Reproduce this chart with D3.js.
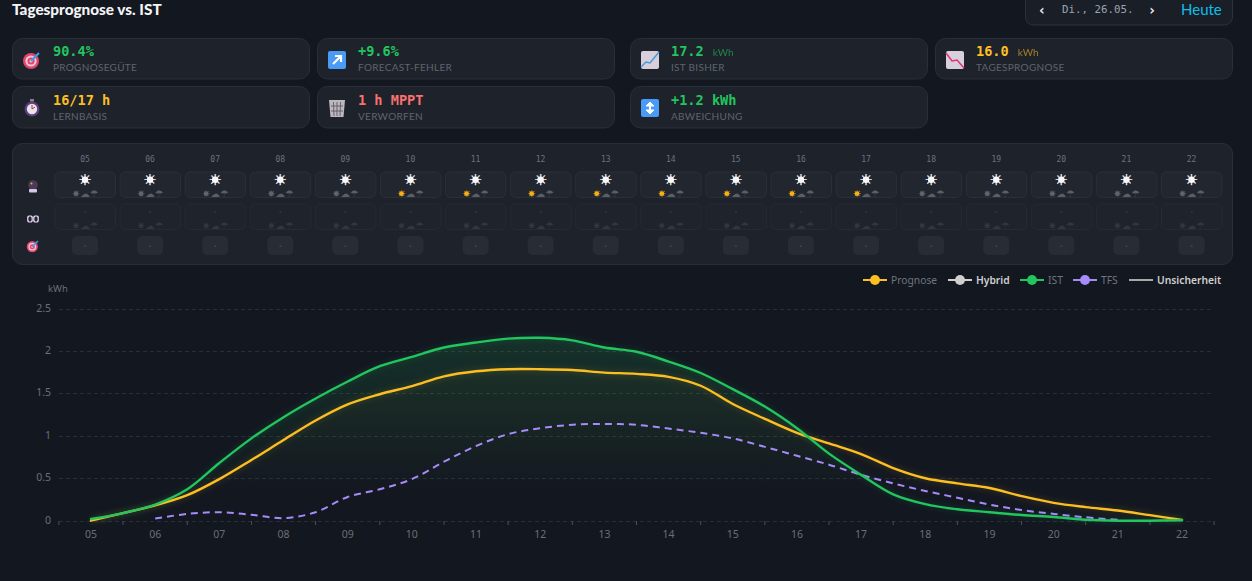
<!DOCTYPE html>
<html lang="de"><head><meta charset="utf-8"><title>Tagesprognose vs. IST</title>
<script src="https://cdn.jsdelivr.net/npm/d3@7/dist/d3.min.js"></script>
<style>html,body{margin:0;padding:0;background:#131720;overflow:hidden}svg{display:block}</style></head>
<body><div id="c"></div>
<script>
const hourLabels=["05","06","07","08","09","10","11","12","13","14","15","16","17","18","19","20","21","22"];
const times=[5,5.5,6,6.5,7,7.5,8,8.5,9,9.5,10,10.5,11,11.5,12,12.5,13,13.5,14,14.5,15,15.5,16,16.5,17,17.5,18,18.5,19,19.5,20,20.5,21,21.5,22];
const prognose=[0,.09,.18,.30,.49,.715,.95,1.18,1.37,1.49,1.585,1.70,1.76,1.785,1.785,1.775,1.745,1.73,1.695,1.59,1.375,1.2,1.035,.91,.785,.62,.50,.44,.385,.29,.21,.16,.12,.065,.01];
const ist=[.02,.09,.19,.37,.68,.97,1.22,1.44,1.64,1.82,1.93,2.04,2.10,2.145,2.155,2.125,2.04,1.99,1.875,1.74,1.55,1.345,1.09,.79,.54,.31,.195,.135,.10,.067,.044,.012,0,0,.005];
const tfs=[null,null,.025,.08,.10,.07,.03,.10,.28,.37,.49,.695,.88,1.02,1.09,1.13,1.14,1.13,1.085,1.035,.97,.87,.765,.66,.54,.44,.35,.27,.19,.125,.08,.04,.01,null,null];
const yTicks=[0,.5,1,1.5,2,2.5];
const legendItems=[["Prognose","#fbbf24",true,false],["Hybrid","#cfcfcf",true,true],["IST","#22c55e",true,false],["TFS","#a78bfa",true,false],["Unsicherheit","#a8a8a8",false,true]];
const legendX=[863,948,1020,1073,1129];
const kpiCards=[
 {icon:"target",value:"90.4%",unit:"",label:"PROGNOSEGÜTE",color:"#22c55e",col:0,row:0},
 {icon:"up",value:"+9.6%",unit:"",label:"FORECAST-FEHLER",color:"#22c55e",col:1,row:0},
 {icon:"chartUp",value:"17.2",unit:"kWh",label:"IST BISHER",color:"#22c55e",col:2,row:0},
 {icon:"chartDown",value:"16.0",unit:"kWh",label:"TAGESPROGNOSE",color:"#fbbf24",col:3,row:0},
 {icon:"watch",value:"16/17 h",unit:"",label:"LERNBASIS",color:"#fbbf24",col:0,row:1},
 {icon:"trash",value:"1 h MPPT",unit:"",label:"VERWORFEN",color:"#f87171",col:1,row:1},
 {icon:"updown",value:"+1.2 kWh",unit:"",label:"ABWEICHUNG",color:"#22c55e",col:2,row:1}];
const sunnyHours=["10","11","12","13","14","15","16","17"];
const W=1252,H=581;
const sans="'Noto Sans',sans-serif",head="Lato,sans-serif",mono="'DejaVu Sans Mono',monospace",sym="'DejaVu Sans'";
const svg=d3.select("#c").append("svg").attr("width",W).attr("height",H).attr("viewBox",[0,0,W,H]);
const defs=svg.append("defs");
function txt(p,x,y,s,o={}){return p.append("text").attr("x",x).attr("y",y).text(s)
 .attr("font-family",o.f||sans).attr("font-size",o.s||10).attr("font-weight",o.w||400)
 .attr("fill",o.c||"#fff").attr("text-anchor",o.a||"start").attr("opacity",o.o==null?1:o.o).attr("letter-spacing",o.ls||null);}
// header
txt(svg,12,14.5,"Tagesprognose vs. IST",{f:head,s:15.3,w:900,c:"#f3f4f6"});
svg.append("rect").attr("x",1025.5).attr("y",-12).attr("width",207).attr("height",37).attr("rx",8).attr("fill","#1a1e27").attr("stroke","#2e323c");
txt(svg,1042,14.5,"‹",{f:mono,s:14,w:700,a:"middle",c:"#eee"});
txt(svg,1062,12.5,"Di., 26.05.",{f:mono,s:10.8,c:"#9ca3af"});
txt(svg,1152,14.5,"›",{f:mono,s:14,w:700,a:"middle",c:"#eee"});
txt(svg,1181,15,"Heute",{f:head,s:15,c:"#0ebee8"});
// icons
function tile(g,x,y,s,c){g.append("rect").attr("x",x).attr("y",y).attr("width",s).attr("height",s).attr("rx",2).attr("fill",c);}
const icons={
 target(g,x,y,k=1){[[8,"#e0456f"],[5.6,"#f3c6d0"],[3.6,"#e0456f"],[1.5,"#f3c6d0"]].forEach(([r,c])=>g.append("circle").attr("cx",x-k).attr("cy",y+k).attr("r",r*k).attr("fill",c));
   g.append("path").attr("d",`M${x-k} ${y+k}L${x+7*k} ${y-7*k}`).attr("stroke","#3b9be8").attr("stroke-width",2.2*k);},
 up(g,x,y){tile(g,x-9,y-9,18,"#4a9bf5");g.append("path").attr("d",`M${x-4} ${y+4}L${x+3} ${y-3}M${x-2} ${y-4}H${x+4}V${y+2}`).attr("stroke","#fff").attr("stroke-width",2.2).attr("fill","none");},
 updown(g,x,y){tile(g,x-9,y-9,18,"#4a9bf5");g.append("path").attr("d",`M${x} ${y-6}L${x+4} ${y-2}H${x-4}ZM${x} ${y+6}L${x+4} ${y+2}H${x-4}Z`).attr("fill","#fff").attr("stroke","#fff");g.append("path").attr("d",`M${x} ${y-3}V${y+3}`).attr("stroke","#fff").attr("stroke-width",2);},
 chartUp(g,x,y){tile(g,x-9,y-9,18,"#d8cfdc");g.append("path").attr("d",`M${x-9} ${y+7}L${x-4} ${y+2}L${x} ${y+3}L${x+9} ${y-8}`).attr("stroke","#4a9bd8").attr("stroke-width",1.5).attr("fill","none");},
 chartDown(g,x,y){tile(g,x-9,y-9,18,"#d8cfdc");g.append("path").attr("d",`M${x-9} ${y-7}L${x-3} ${y+1}L${x+2} ${y}L${x+9} ${y+8}`).attr("stroke","#e0336f").attr("stroke-width",1.5).attr("fill","none");},
 watch(g,x,y){g.append("circle").attr("cx",x).attr("cy",y+1).attr("r",7.5).attr("fill","#5b3f7a");g.append("circle").attr("cx",x).attr("cy",y+1).attr("r",5.2).attr("fill","#e8e2ee");
   g.append("path").attr("d",`M${x} ${y+1}V${y-3}M${x} ${y+1}L${x+3} ${y-1}`).attr("stroke","#c0392b").attr("stroke-width",1);g.append("rect").attr("x",x-2).attr("y",y-9).attr("width",4).attr("height",2.5).attr("fill","#8d7a9c");},
 trash(g,x,y){g.append("path").attr("d",`M${x-8} ${y-8}H${x+8}L${x+6.5} ${y+9}H${x-6.5}Z`).attr("fill","#bdb8c0");g.append("path").attr("d",`M${x-3.5} ${y-6}L${x-3} ${y+8}M${x} ${y-6}V${y+8}M${x+3.5} ${y-6}L${x+3} ${y+8}M${x-6} ${y-2}H${x+6}M${x-6} ${y+3}H${x+6}`).attr("stroke","#5e5a62").attr("stroke-width",.9);},
 ball(g,x,y){g.append("circle").attr("cx",x).attr("cy",y-2).attr("r",4.8).attr("fill","#4a3a55");g.append("circle").attr("cx",x-1.5).attr("cy",y-3.5).attr("r",1).attr("fill","#e8b04a");g.append("rect").attr("x",x-4).attr("y",y+2).attr("width",8).attr("height",3.5).attr("rx",1).attr("fill","#d6c6e6");},
 eyes(g,x,y){[-3,3].forEach(d=>{g.append("rect").attr("x",x+d-2.8).attr("y",y-3.6).attr("width",5.6).attr("height",7.2).attr("rx",1.8).attr("fill","#e6dff0");g.append("ellipse").attr("cx",x+d).attr("cy",y).attr("rx",1.7).attr("ry",2.8).attr("fill","#2b2340");});}
};
// KPI cards
const cardX=[12.5,317.5,630.5,935.5],cardY=[38.5,86.5],cardH=[40.5,41.5],textDy=[0,1];
const cards=svg.append("g");
kpiCards.forEach(k=>{const x=cardX[k.col],y=cardY[k.row],g=cards.append("g"),d=textDy[k.row];
 g.append("rect").attr("x",x).attr("y",y).attr("width",297).attr("height",cardH[k.row]).attr("rx",10).attr("fill","#1e222b").attr("stroke","#2a2e38");
 icons[k.icon](g,x+19.5,y+21.5);
 txt(g,x+40.5,y+17+d,k.value,{f:mono,s:13.6,w:700,c:k.color});
 if(k.unit)txt(g,x+40.5+k.value.length*8.2+9,y+17,k.unit,{s:10,c:k.color,o:.6,f:head});
 txt(g,x+40.5,y+32.5+d,k.label,{f:head,s:10,c:"#5f6570",ls:.3});
});
// hourly panel
const panel=svg.append("g");
panel.append("rect").attr("x",12.5).attr("y",143.5).attr("width",1220).attr("height",121).attr("rx",10).attr("fill","#1e222b").attr("stroke","#2a2e38");
const colX=d3.scalePoint().domain(hourLabels).range([85,1191.5]);
icons.ball(panel,33,187);icons.eyes(panel,33,219);icons.target(panel,33,246,.7);
function small(g,cx,y,sunCol,col){
 g.append("circle").attr("cx",cx-9).attr("cy",y+.7).attr("r",2.4).attr("fill",sunCol);
 txt(g,cx-9,y+3.9,"☀",{f:sym,s:9.5,a:"middle",c:sunCol});
 txt(g,cx,y+3.6,"☁",{f:sym,s:9.5,a:"middle",c:col});
 txt(g,cx+9,y+4.2,"☂",{f:sym,s:9.5,a:"middle",c:col});
}
hourLabels.forEach(h=>{const cx=colX(h),g=panel.append("g");
 txt(g,cx,162,h,{f:mono,s:8,c:"#6b7280",a:"middle"});
 g.append("rect").attr("x",cx-30).attr("y",172).attr("width",60.5).attr("height",25.5).attr("rx",5).attr("fill","#22262f").attr("stroke","#2b2f38");
 g.append("rect").attr("x",cx-30).attr("y",204).attr("width",60.5).attr("height",25.5).attr("rx",5).attr("fill","#1f232c").attr("stroke","#262a33");
 g.append("rect").attr("x",cx-13).attr("y",236).attr("width",26).attr("height",19).attr("rx",5).attr("fill","#282c35");
 g.append("circle").attr("cx",cx).attr("cy",179.7).attr("r",3.2).attr("fill","#fff");
 txt(g,cx,185,"☀",{f:sym,s:15,a:"middle",c:"#f6f7fb"}).attr("stroke","#f6f7fb").attr("stroke-width",.35);
 small(g,cx,193,sunnyHours.includes(h)?"#f5b014":"#60646c","#5a5e66");
 txt(g,cx,214,"-",{f:mono,s:7,a:"middle",c:"#555963"});
 small(g,cx,225,"#32363e","#32363e");
 txt(g,cx,248,"-",{f:mono,s:7,a:"middle",c:"#6b7280"});
});
// chart
const x=d3.scaleLinear().domain([5,22]).range([91,1182]);
const y=d3.scaleLinear().domain([0,2.5]).range([520.7,308.5]);
const plot=svg.append("g");
plot.append("g").selectAll("line").data(yTicks).join("line").attr("x1",59).attr("x2",1214).attr("y1",d=>Math.round(y(d))+.5).attr("y2",d=>Math.round(y(d))+.5)
 .attr("stroke","#292d35").attr("stroke-dasharray","4 3");
plot.append("g").selectAll("text").data(yTicks).join("text").attr("x",51).attr("y",d=>y(d)+3).attr("text-anchor","end").text(d=>d)
 .attr("font-family",sans).attr("font-size",10.5).attr("fill","#6b6f78");
txt(plot,48,292,"kWh",{s:9.5,c:"#6b6f78"});
const tickStep=x(6)-x(5);
plot.append("g").selectAll("line").data(d3.range(19)).join("line").attr("x1",d=>x(5)+(d-.5)*tickStep).attr("x2",d=>x(5)+(d-.5)*tickStep).attr("y1",521).attr("y2",525).attr("stroke","#4b4f58");
plot.append("g").selectAll("text").data(hourLabels).join("text").attr("x",d=>x(+d)).attr("y",538).attr("text-anchor","middle").text(d=>d)
 .attr("font-family",sans).attr("font-size",10.5).attr("fill","#6b6f78");
function grad(id,c,a1,y1,y2){const g=defs.append("linearGradient").attr("id",id).attr("gradientUnits","userSpaceOnUse").attr("x1",0).attr("x2",0).attr("y1",y1).attr("y2",y2);
 g.append("stop").attr("offset",0).attr("stop-color",c).attr("stop-opacity",a1);g.append("stop").attr("offset",1).attr("stop-color",c).attr("stop-opacity",0);}
grad("gIst","#22c55e",.15,y(2.15),y(.35));grad("gPro","#fbbf24",.03,y(1.8),y(.2));
const f=defs.append("filter").attr("id","glow").attr("x","-5%").attr("y","-20%").attr("width","110%").attr("height","140%");
f.append("feGaussianBlur").attr("stdDeviation",3);
const rows=times.map((t,i)=>({t,p:prognose[i],i:ist[i],f:tfs[i]}));
const curve=d3.curveCatmullRom.alpha(.5);
const area=k=>d3.area().x(d=>x(d.t)).y0(y(0)).y1(d=>y(d[k])).curve(curve);
const line=k=>d3.line().defined(d=>d[k]!=null).x(d=>x(d.t)).y(d=>y(d[k])).curve(curve);
plot.append("path").attr("d",area("p")(rows)).attr("fill","url(#gPro)");
plot.append("path").attr("d",area("i")(rows)).attr("fill","url(#gIst)");
plot.append("path").attr("d",line("p")(rows)).attr("fill","none").attr("stroke","#fbbf24").attr("stroke-width",3).attr("opacity",.2).attr("filter","url(#glow)");
plot.append("path").attr("d",line("i")(rows)).attr("fill","none").attr("stroke","#22c55e").attr("stroke-width",3).attr("opacity",.2).attr("filter","url(#glow)");
plot.append("path").attr("d",line("f")(rows)).attr("fill","none").attr("stroke","#a78bfa").attr("stroke-width",2).attr("stroke-dasharray","7 5");
plot.append("path").attr("d",line("p")(rows)).attr("fill","none").attr("stroke","#fbbf24").attr("stroke-width",2.4).attr("stroke-linecap","round");
plot.append("path").attr("d",line("i")(rows)).attr("fill","none").attr("stroke","#22c55e").attr("stroke-width",2.4).attr("stroke-linecap","round");
// legend
const leg=svg.append("g");
legendItems.forEach(([n,c,m,b],i)=>{const lx=legendX[i];
 leg.append("line").attr("x1",lx).attr("x2",lx+24).attr("y1",280).attr("y2",280).attr("stroke",c).attr("stroke-width",2);
 if(m)leg.append("circle").attr("cx",lx+12).attr("cy",280).attr("r",5).attr("fill",c);
 txt(leg,lx+28,283.5,n,{s:10.3,w:b?600:400,c:b?"#cfcfcf":"#71757e"});
});
</script></body></html>
